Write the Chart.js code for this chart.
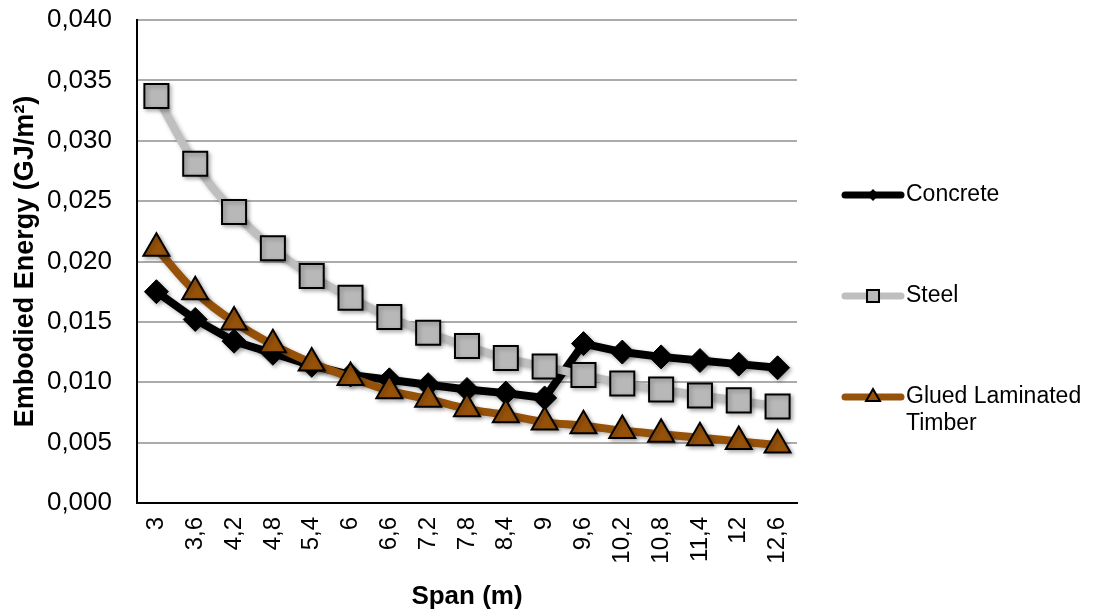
<!DOCTYPE html>
<html>
<head>
<meta charset="utf-8">
<script src="https://cdn.jsdelivr.net/npm/chart.js@4"></script>
<style>
  body { margin: 0; background: #fff; }
  #wrap { width: 1095px; height: 612px; }
</style>
</head>
<body>
<div id="wrap"><canvas id="chart" width="1095" height="612"></canvas></div>
<script>
const spans = ['3', '3,6', '4,2', '4,8', '5,4', '6', '6,6', '7,2', '7,8', '8,4', '9', '9,6', '10,2', '10,8', '11,4', '12', '12,6'];
const concrete = [0.0175, 0.0152, 0.0134, 0.0124, 0.0114, 0.0106, 0.0102, 0.0098, 0.0094, 0.0091, 0.0087, 0.0132, 0.0125, 0.0121, 0.0118, 0.0115, 0.0112];
const steel = [0.0337, 0.0281, 0.0241, 0.0211, 0.0188, 0.0170, 0.0154, 0.0141, 0.0130, 0.0120, 0.0113, 0.0106, 0.0099, 0.0094, 0.0089, 0.0085, 0.0080];
const timber = [0.0211, 0.0175, 0.0150, 0.0131, 0.0116, 0.0104, 0.0093, 0.0086, 0.0078, 0.0073, 0.0067, 0.0064, 0.0060, 0.0057, 0.0054, 0.0051, 0.0048];
const legendLabels = [['Concrete'], ['Steel'], ['Glued Laminated', 'Timber']];

const FONT = "'Liberation Sans', Arial, sans-serif";
Chart.defaults.font.family = FONT;
Chart.defaults.color = '#000';

// soft drop shadow under lines and markers
const shadowPlugin = {
  id: 'shadow',
  beforeDatasetsDraw(chart) {
    const ctx = chart.ctx;
    ctx.save();
    ctx.shadowColor = 'rgba(0,0,0,0.3)';
    ctx.shadowBlur = 4;
    ctx.shadowOffsetX = 2;
    ctx.shadowOffsetY = 2;
  },
  afterDatasetsDraw(chart) {
    chart.ctx.restore();
  },
};

// legend on the right, drawn by hand so the rows can sit far apart
const sideLegend = {
  id: 'sideLegend',
  afterDraw(chart) {
    const { ctx, chartArea } = chart;
    const x0 = chartArea.right + 48;
    const rows = [195, 296, 397];
    const marks = [
      { pointStyle: 'rectRot', radius: 6, borderWidth: 0 },
      { pointStyle: 'rect', radius: 8.5, borderWidth: 2 },
      { pointStyle: 'triangle', radius: 8, borderWidth: 2 },
    ];
    chart.data.datasets.forEach((ds, i) => {
      const y = rows[i];
      ctx.save();
      ctx.strokeStyle = ds.borderColor;
      ctx.lineWidth = 7;
      ctx.lineCap = 'round';
      ctx.beginPath();
      ctx.moveTo(x0, y);
      ctx.lineTo(x0 + 56, y);
      ctx.stroke();
      ctx.fillStyle = ds.pointBackgroundColor;
      ctx.strokeStyle = ds.pointBorderColor;
      ctx.lineWidth = marks[i].borderWidth;
      Chart.helpers.drawPoint(ctx, { ...marks[i], rotation: 0 }, x0 + 28, y);
      ctx.fillStyle = '#000';
      ctx.font = '23px ' + FONT;
      ctx.textBaseline = 'middle';
      ctx.textAlign = 'left';
      legendLabels[i].forEach((t, k) => ctx.fillText(t, x0 + 61, y + k * 27));
      ctx.restore();
    });
  },
};

new Chart(document.getElementById('chart'), {
  type: 'line',
  data: {
    labels: spans,
    datasets: [
      {
        label: 'Concrete',
        data: concrete,
        borderColor: '#000',
        borderWidth: 8,
        pointStyle: 'rectRot',
        pointRadius: 12,
        pointBackgroundColor: '#000',
        pointBorderColor: '#000',
        pointBorderWidth: 1,
        tension: 0,
        order: 3,
      },
      {
        label: 'Steel',
        data: steel,
        borderColor: '#bfbfbf',
        borderWidth: 8,
        pointStyle: 'rect',
        pointRadius: 17,
        pointBackgroundColor: '#b8b8b8',
        pointBorderColor: '#000',
        pointBorderWidth: 2,
        tension: 0.4,
        order: 2,
      },
      {
        label: 'Glued Laminated Timber',
        data: timber,
        borderColor: '#97520a',
        borderWidth: 8,
        pointStyle: 'triangle',
        pointRadius: 15,
        pointBackgroundColor: '#97520a',
        pointBorderColor: '#000',
        pointBorderWidth: 2,
        tension: 0.4,
        order: 1,
      },
    ],
  },
  options: {
    responsive: false,
    animation: false,
    devicePixelRatio: 1,
    layout: { padding: { top: 0, right: 298, left: 0, bottom: 0 } },
    plugins: {
      legend: { display: false },
      tooltip: { enabled: false },
    },
    scales: {
      x: {
        offset: true,
        grid: { display: false, drawTicks: false },
        border: { color: '#000', width: 2 },
        ticks: {
          font: { size: 24 },
          maxRotation: 90,
          minRotation: 90,
          padding: 14,
          autoSkip: false,
        },
        title: {
          display: true,
          text: 'Span (m)',
          font: { size: 26, weight: 'bold' },
          padding: { top: 0, bottom: 0 },
        },
        afterFit(scale) {
          scale.height = 109;
        },
      },
      y: {
        min: 0,
        max: 0.04,
        grid: { color: '#ababab', lineWidth: 2, drawTicks: false },
        border: { color: '#000', width: 2 },
        ticks: {
          stepSize: 0.005,
          font: { size: 26 },
          padding: 25,
          callback: (v) => v.toFixed(3).replace('.', ','),
        },
        title: {
          display: true,
          text: 'Embodied Energy (GJ/m²)',
          font: { size: 27, weight: 'bold' },
          padding: { top: 9, bottom: 0 },
        },
        afterFit(scale) {
          scale.width = 137;
          scale.paddingTop = 20;
        },
      },
    },
  },
  plugins: [shadowPlugin, sideLegend],
});
</script>
</body>
</html>
